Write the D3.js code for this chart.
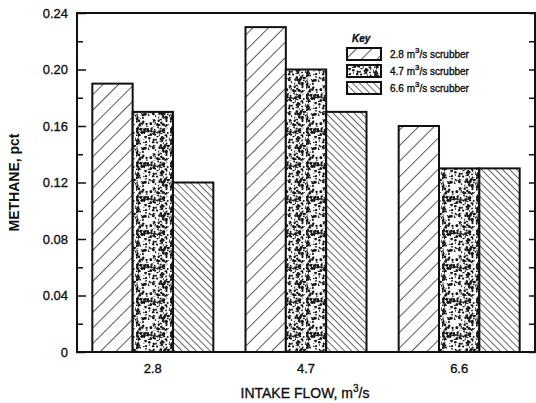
<!DOCTYPE html>
<html><head><meta charset="utf-8">
<script src="https://cdn.jsdelivr.net/npm/d3@7"></script>
<style>body{margin:0;background:#fff}svg{display:block}text{font-family:"Liberation Sans",Arial,sans-serif;fill:#111;stroke:#111;stroke-width:0.35px}</style>
</head><body><svg id="c" width="536" height="403"></svg>
<script>
const categories = ["2.8", "4.7", "6.6"];
const seriesNames = ["2.8", "4.7", "6.6"];
const scrubber28 = [0.19, 0.23, 0.16];
const scrubber47 = [0.17, 0.20, 0.13];
const scrubber66 = [0.12, 0.17, 0.13];
const yTicks = [0, 0.04, 0.08, 0.12, 0.16, 0.20, 0.24];
const yTickLabels = ["0", "0.04", "0.08", "0.12", "0.16", "0.20", "0.24"];
const minorTicks = [0.02, 0.06, 0.10, 0.14, 0.18, 0.22];

const svg = d3.select("#c");
const L = 77, R = 535, T = 13, B = 352;
const defs = svg.append("defs");

// pattern 1: sparse "/" hatch
const p1 = defs.append("pattern").attr("id","p1").attr("patternUnits","userSpaceOnUse")
  .attr("width",11).attr("height",11).attr("patternTransform","rotate(45)");
p1.append("rect").attr("width",11).attr("height",11).attr("fill","#fff");
p1.append("line").attr("x1",0).attr("y1",0).attr("x2",0).attr("y2",11).attr("stroke","#222").attr("stroke-width",1.5);
// pattern 3: dense "\" hatch
const p3 = defs.append("pattern").attr("id","p3").attr("patternUnits","userSpaceOnUse")
  .attr("width",5).attr("height",5).attr("patternTransform","rotate(-45)");
p3.append("rect").attr("width",5).attr("height",5).attr("fill","#fff");
p3.append("line").attr("x1",0).attr("y1",0).attr("x2",0).attr("y2",5).attr("stroke","#222").attr("stroke-width",1.4);
// pattern 2: stipple (deterministic texture)
const tile = 34;
const p2 = defs.append("pattern").attr("id","p2").attr("patternUnits","userSpaceOnUse")
  .attr("width",tile).attr("height",tile);
p2.append("rect").attr("width",tile).attr("height",tile).attr("fill","#fff");
let s = 98765;
function lcg(){ s = (s*1103515245 + 12345) % 2147483648; return s/2147483648; }
for(let i=0;i<200;i++){
  const x = lcg()*tile, y = lcg()*tile, r = 0.4 + lcg()*1.1;
  p2.append("circle").attr("cx",x).attr("cy",y).attr("r",r).attr("fill","#151515");
}
const fills = ["url(#p1)","url(#p2)","url(#p3)"];

const x0 = d3.scaleBand().domain(categories).range([L,R]).paddingInner(0.21).paddingOuter(0.1);
const x1 = d3.scaleBand().domain([0,1,2]).range([0,x0.bandwidth()]);
const y = d3.scaleLinear().domain([0,0.24]).range([B,T]);

const series = [scrubber28, scrubber47, scrubber66];
categories.forEach((c,ci)=>{
  series.forEach((vals,si)=>{
    svg.append("rect")
      .attr("x", x0(c)+x1(si)).attr("y", y(vals[ci]))
      .attr("width", x1.bandwidth()).attr("height", y(0)-y(vals[ci]))
      .attr("fill", fills[si]).attr("stroke","#111").attr("stroke-width",2);
  });
});

// frame
svg.append("rect").attr("x",L).attr("y",T).attr("width",R-L).attr("height",B-T)
  .attr("fill","none").attr("stroke","#111").attr("stroke-width",2);

// left axis: inward ticks
const la = svg.append("g").attr("transform",`translate(${L},0)`)
  .call(d3.axisRight(y).tickValues(yTicks).tickSize(9).tickFormat(""));
la.select(".domain").remove();
la.selectAll("line").attr("stroke","#111").attr("stroke-width",1.5);
const lm = svg.append("g").attr("transform",`translate(${L},0)`)
  .call(d3.axisRight(y).tickValues(minorTicks).tickSize(6).tickFormat(""));
lm.select(".domain").remove();
lm.selectAll("line").attr("stroke","#111").attr("stroke-width",1.5);
// right axis
const ra = svg.append("g").attr("transform",`translate(${R},0)`)
  .call(d3.axisLeft(y).tickValues(yTicks.concat(minorTicks)).tickSize(6).tickFormat(""));
ra.select(".domain").remove();
ra.selectAll("line").attr("stroke","#111").attr("stroke-width",1.5);

// tick labels
yTicks.forEach((v,i)=>{
  svg.append("text").attr("x",68).attr("y",y(v)).attr("dy","0.35em")
    .attr("text-anchor","end").attr("font-size",13).text(yTickLabels[i]);
});
categories.forEach(c=>{
  svg.append("text").attr("x",x0(c)+x0.bandwidth()/2).attr("y",373)
    .attr("text-anchor","middle").attr("font-size",13).text(c);
});

// axis titles
const xt = svg.append("text").attr("x",305).attr("y",398).attr("text-anchor","middle").attr("font-size",14);
xt.append("tspan").text("INTAKE FLOW, m");
xt.append("tspan").attr("dy",-6).attr("font-size",10).text("3");
xt.append("tspan").attr("dy",6).text("/s");
svg.append("text").attr("transform",`translate(19,${(T+B)/2}) rotate(-90)`)
  .attr("text-anchor","middle").attr("font-size",14).attr("font-weight","bold")
  .style("stroke-width","0").text("METHANE, pct");

// legend
svg.append("text").attr("x",352).attr("y",42).attr("font-size",10)
  .attr("font-style","italic").attr("font-weight","bold").text("Key");
seriesNames.forEach((n,i)=>{
  const yy = 48 + i*17;
  svg.append("rect").attr("x",347).attr("y",yy).attr("width",34).attr("height",12)
    .attr("fill",fills[i]).attr("stroke","#111").attr("stroke-width",2);
  const t = svg.append("text").attr("x",390).attr("y",yy+10).attr("font-size",10);
  t.append("tspan").text(n+" m");
  t.append("tspan").attr("dy",-5).attr("font-size",8).text("3");
  t.append("tspan").attr("dy",5).text("/s scrubber");
});
</script></body></html>
